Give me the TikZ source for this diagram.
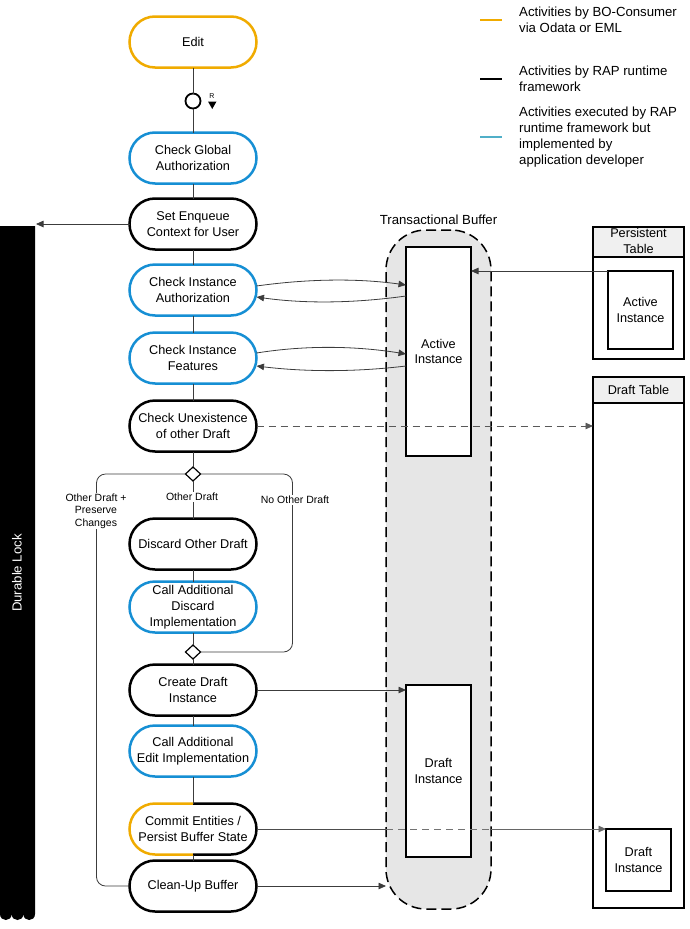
\documentclass[tikz,border=0pt]{standalone}
\usepackage{fontspec}
\setmainfont{Liberation Sans}
\usetikzlibrary{shapes.geometric,arrows.meta,calc}
\definecolor{sapy}{RGB}{240,171,0}
\definecolor{sapb}{RGB}{22,143,212}
\definecolor{legb}{RGB}{80,175,200}
\definecolor{bufg}{RGB}{230,230,230}
\definecolor{hdrg}{RGB}{240,240,240}
\definecolor{conn}{RGB}{60,60,60}
\newcommand\nodefnt{\fontsize{12.7}{15.8}\selectfont}
\newcommand\bigfnt{\fontsize{13.2}{15.8}\selectfont}
\newcommand\lblfnt{\fontsize{10.5}{12.3}\selectfont}
\newcommand\tinyfnt{\fontsize{7}{8}\selectfont}
\begin{document}
\begin{tikzpicture}[x=1pt,y=-1pt,
  pill/.style={rectangle, rounded corners=25.5pt, minimum width=127pt, minimum height=51pt,
    inner sep=0pt, outer sep=0pt, line width=2.5pt, fill=white, align=center, font=\nodefnt},
  ypill/.style={pill, draw=sapy},
  bpill/.style={pill, draw=sapb},
  kpill/.style={pill, draw=black},
  cn/.style={draw=conn, line width=0.8pt},
  arr/.style={cn, -{Triangle[length=7.5pt,width=6.5pt]}},
  dia/.style={diamond, draw=black, fill=white, line width=1.2pt, minimum width=15pt, minimum height=14pt, inner sep=0pt, outer sep=0pt},
  lbl/.style={fill=white, inner sep=1pt, align=center, font=\lblfnt},
  ibox/.style={rectangle, draw=black, fill=white, line width=1.3pt, inner sep=0pt, outer sep=0pt, align=center, font=\nodefnt, minimum width=65pt},
  tblbox/.style={rectangle, draw=black, line width=1.4pt, inner sep=0pt, outer sep=0pt},
  legtxt/.style={anchor=west, align=left, font=\bigfnt, inner sep=0pt}
]
\useasboundingbox (0,0) rectangle (689,929);

% ---------- legend ----------
\draw[sapy, line width=2pt] (480,20) -- (502,20);
\draw[black, line width=2pt] (480,79) -- (502,79);
\draw[legb, line width=2pt] (480,137) -- (502,137);
\node[legtxt] (lg1) at (519,19.5) {Activities by BO-Consumer\\via Odata or EML};
\node[legtxt] (lg2) at (519,79) {Activities by RAP runtime\\framework};
\node[legtxt] (lg3) at (519,137) {Activities executed by RAP\\runtime framework but\\implemented by\\application developer};

% ---------- durable lock ----------
\fill[black] (0,226) -- (35,226) -- (35,914)
  .. controls (35,922) and (23.33,922) .. (23.33,914)
  .. controls (23.33,922) and (11.67,922) .. (11.67,914)
  .. controls (11.67,922) and (0,922) .. (0,914) -- cycle;
\node[text=white, rotate=90, font=\bigfnt] (lockt) at (17,573) {Durable Lock};
\coordinate (lockr) at (36,224);

% ---------- transactional buffer ----------
\node[rectangle, rounded corners=40pt, draw=black, dash pattern=on 10pt off 5pt, line width=1.5pt,
  fill=bufg, minimum width=105pt, minimum height=679pt, inner sep=0pt, outer sep=0pt] (buf) at (438.5,569.5) {};
\node[font=\bigfnt] (buft) at (438.5,220) {Transactional Buffer};
\node[ibox, minimum height=209pt] (act) at (438.5,351.5) {Active\\Instance};
\node[ibox, minimum height=172pt] (dib) at (438.5,771) {Draft\\Instance};

% ---------- persistent table ----------
\node[tblbox, minimum width=91pt, minimum height=132pt, fill=white] (ptab) at (638.5,293) {};
\fill[hdrg] ($(ptab.north west)+(0.7,0.7)$) rectangle ($(ptab.north east)+(-0.7,30)$);
\draw[black, line width=1.4pt] ($(ptab.north west)+(0,30)$) -- ($(ptab.north east)+(0,30)$);
\node[align=center, font=\nodefnt] (ptabt) at (638.5,241) {Persistent\\Table};
\node[ibox, minimum height=78pt] (pai) at (640.5,310) {Active\\Instance};

% ---------- draft table ----------
\node[tblbox, minimum width=91pt, minimum height=531pt, fill=white] (dtab) at (638.5,642.5) {};
\fill[hdrg] ($(dtab.north west)+(0.7,0.7)$) rectangle ($(dtab.north east)+(-0.7,26)$);
\draw[black, line width=1.4pt] ($(dtab.north west)+(0,26)$) -- ($(dtab.north east)+(0,26)$);
\node[font=\nodefnt] (dtabt) at (638.5,390) {Draft Table};
\node[ibox, minimum height=62pt] (di2) at (638.5,860) {Draft\\Instance};

% ---------- activity nodes ----------
\node[ypill] (edit) at (193,42) {Edit};
\node[circle, draw=black, fill=white, line width=1.8pt, minimum size=15pt, inner sep=0pt, outer sep=0pt] (c) at (193,101) {};
\node[font=\tinyfnt, inner sep=0pt] (rl) at (212,96) {R};
\fill[black] (208,101.5) -- (216.5,101.5) -- (212.25,109) -- cycle;
\node[bpill] (cga) at (193,158) {Check Global\\Authorization};
\node[kpill] (sec) at (193,224) {Set Enqueue\\Context for User};
\node[bpill] (cia) at (193,290) {Check Instance\\Authorization};
\node[bpill] (cif) at (193,358) {Check Instance\\Features};
\node[kpill] (cue) at (193,426) {Check Unexistence\\of other Draft};
\node[dia] (d1) at (193,474) {};
\node[kpill] (dod) at (193,544) {Discard Other Draft};
\node[bpill] (cad) at (193,607) {Call Additional\\Discard\\Implementation};
\node[dia] (d2) at (193,652) {};
\node[kpill] (cdi) at (193,690) {Create Draft\\Instance};
\node[bpill] (cae) at (193,751) {Call Additional\\Edit Implementation};
\node[pill] (cmt) at (193,829) {Commit Entities /\\Persist Buffer State};
\draw[sapy, line width=2.5pt, rounded corners=25.5pt] (cmt.north) -- (cmt.north west) -- (cmt.south west) -- (cmt.south);
\draw[black, line width=2.5pt, rounded corners=25.5pt] (cmt.north) -- (cmt.north east) -- (cmt.south east) -- (cmt.south);
\node[kpill] (cub) at (193,886) {Clean-Up Buffer};

% ---------- vertical flow ----------
\draw[cn] (edit.south) -- (c.north);
\draw[cn] (c.south) -- (cga.north);
\draw[cn] (cga.south) -- (sec.north);
\draw[cn] (sec.south) -- (cia.north);
\draw[cn] (cia.south) -- (cif.north);
\draw[cn] (cif.south) -- (cue.north);
\draw[cn] (cue.south) -- (d1.north);
\draw[cn] (d1.south) -- (dod.north);
\draw[cn] (dod.south) -- (cad.north);
\draw[cn] (cad.south) -- (d2.north);
\draw[cn] (d2.south) -- (cdi.north);
\draw[cn] (cdi.south) -- (cae.north);
\draw[cn] (cae.south) -- (cmt.north);
\draw[cn] (cmt.south) -- (cub.north);

% branches
\draw[cn, rounded corners=9pt] (d1.west) -| ($(cub.west)+(-33,0)$) -- (cub.west);
\draw[cn, rounded corners=9pt] (d1.east) -| ($(d2.east)+(92,0)$) -- (d2.east);
\node[lbl] (l1) at (192,497) {Other Draft};
\node[lbl] (l2) at (295,500) {No Other Draft};
\node[lbl] (l3) at (96,511) {Other Draft +\\Preserve\\Changes};

% ---------- connections to buffer / tables ----------
\draw[arr] (sec.west) -- (lockr);
\draw[arr] (pai.north west) -- (act.east |- pai.north west);
\draw[arr] ($(cia.east)+(0,-4)$) .. controls +(50,-7) and +(-50,-7) .. ($(act.west |- cia.east)+(0,-5)$);
\draw[arr] ($(act.west |- cia.east)+(0,6)$) .. controls +(-50,7) and +(50,7) .. ($(cia.east)+(0,7)$);
\draw[arr] ($(cif.east)+(0,-5)$) .. controls +(50,-8) and +(-50,-8) .. ($(act.west |- cif.east)+(0,-4)$);
\draw[arr] ($(act.west |- cif.east)+(0,8)$) .. controls +(-50,6) and +(50,6) .. ($(cif.east)+(0,8)$);
\draw[arr, dash pattern=on 7pt off 5pt, draw=black!65] (cue.east) -- (dtab.west |- cue.east);
\draw[arr] (cdi.east) -- (dib.west |- cdi.east);
\draw[cn, draw=black!70] (cmt.east) -- (buf.west |- cmt.east);
\draw[cn, draw=black!55, dash pattern=on 7pt off 5pt] (buf.west |- cmt.east) -- (buf.east |- cmt.east);
\draw[arr, draw=black!60] (buf.east |- cmt.east) -- (di2.west |- cmt.east);
\draw[arr] (cub.east) -- (buf.west |- cub.east);
\end{tikzpicture}
\end{document}
